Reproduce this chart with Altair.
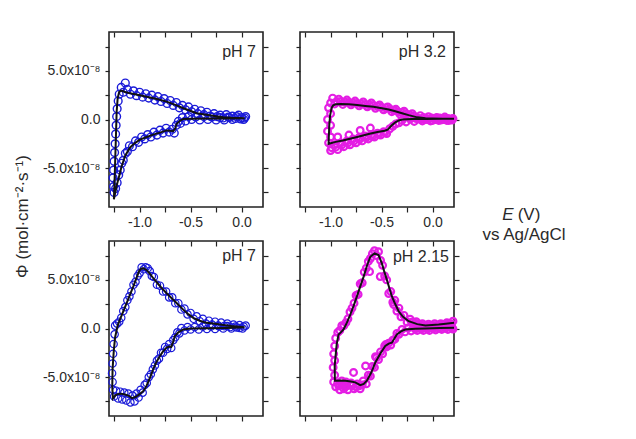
import altair as alt
import pandas as pd

# Potential in V vs Ag/AgCl; flux in units of 1e-8 mol cm^-2 s^-1
E_DOMAIN = [-1.30, 0.21]
PHI_DOMAIN = [-9.0, 9.0]
E_TICKS = [-1.25, -1.0, -0.75, -0.5, -0.25, 0.0]
PHI_TICKS = [-7.5, -5.0, -2.5, 0.0, 2.5, 5.0, 7.5]

BLUE = "#1a1ad8"
MAGENTA = "#e41ee4"
FIT = "#111111"
AX = "#222222"
TXT = "#2a2a2a"
FONT = "Liberation Sans"
W, H = 154, 175

# ---- pH 7 (top) ----
a_fit_E = [0.03, -0.10, -0.18, -0.30, -0.44, -0.57, -0.65, -0.735, -0.83, -0.93, -1.02, -1.095,
           -1.15, -1.18, -1.20, -1.215, -1.225, -1.234, -1.243, -1.252,
           -1.24, -1.225, -1.20, -1.176, -1.14, -1.095, -1.05, -0.997, -0.93, -0.866, -0.80,
           -0.735, -0.70, -0.67, -0.65, -0.637, -0.60, -0.572, -0.50, -0.34, -0.15, 0.03]
a_fit_phi = [0.12, 0.18, 0.24, 0.42, 0.65, 1.16, 1.5, 1.84, 2.1, 2.35, 2.55, 2.69,
             2.85, 2.98, 2.85, 2.2, 0.8, -2.4, -5.5, -8.2,
             -7.6, -6.8, -5.8, -4.8, -3.7, -2.9, -2.45, -2.07, -1.8, -1.56, -1.35,
             -1.12, -1.15, -1.2, -0.9, -0.44, -0.1, 0.04, 0.08, 0.1, 0.1, 0.12]
a_dat_E = [0.04, 0.02, 0.0, -0.03, -0.06, -0.09, -0.12, -0.15, -0.18, -0.21, -0.24, -0.27, -0.31,
           -0.34, -0.37, -0.40, -0.43, -0.46, -0.49, -0.52, -0.55, -0.58, -0.61, -0.64, -0.67,
           -0.70, -0.73, -0.76, -0.79, -0.82, -0.85, -0.88, -0.91, -0.94, -0.97, -1.00, -1.03,
           -1.06, -1.09, -1.12, -1.14, -1.16, -1.18, -1.20, -1.21, -1.22, -1.225, -1.23, -1.235,
           -1.24, -1.245, -1.25, -1.255, -1.26, -1.255, -1.25,
           -1.235, -1.22, -1.205, -1.19, -1.175, -1.16, -1.14, -1.12, -1.10, -1.07, -1.04, -1.01,
           -0.98, -0.95, -0.92, -0.89, -0.86, -0.83, -0.80, -0.77, -0.74, -0.71, -0.68, -0.66,
           -0.64, -0.62, -0.60, -0.58, -0.55, -0.52, -0.49, -0.45, -0.41, -0.37, -0.33, -0.29,
           -0.25, -0.21, -0.17, -0.13, -0.09, -0.05, -0.01, 0.03]
a_dat_phi = [0.3, 0.0, 0.2, 0.45, 0.1, 0.35, 0.2, 0.5, 0.15, 0.45, 0.3, 0.6, 0.35,
             0.75, 0.5, 0.9, 0.6, 1.05, 0.8, 1.3, 1.0, 1.45, 1.2, 1.75, 1.45,
             1.95, 1.65, 2.15, 1.85, 2.35, 2.0, 2.5, 2.2, 2.65, 2.3, 2.8, 2.45,
             2.95, 2.6, 3.1, 3.75, 2.8, 3.3, 2.6, 1.9, 1.1, 0.3, -0.6, -1.5,
             -2.5, -3.4, -4.3, -5.2, -6.0, -6.9, -7.5,
             -7.1, -6.5, -5.7, -5.2, -4.5, -4.2, -3.5, -3.3, -2.7, -2.8, -2.2, -2.35,
             -1.8, -2.0, -1.55, -1.8, -1.3, -1.6, -1.1, -1.4, -0.9, -1.3, -1.0, -1.4,
             -0.6, -0.2, -0.4, 0.2, -0.15, 0.3, 0.0, 0.25, -0.05, 0.3, 0.0, 0.25,
             -0.05, 0.2, -0.05, 0.25, 0.0, 0.3, 0.05, 0.15]

# ---- pH 3.2 ----
b_fit_E = [0.21, 0.10, 0.0, -0.07, -0.15, -0.235, -0.30, -0.366, -0.43, -0.497, -0.58, -0.66,
           -0.74, -0.82, -0.90, -0.95, -0.975, -0.99, -1.005, -1.013, -1.02,
           -0.95, -0.88, -0.82, -0.72, -0.627, -0.54, -0.47, -0.44, -0.40, -0.366, -0.33,
           -0.30, -0.20, -0.07, 0.10, 0.21]
b_fit_phi = [0.07, 0.08, 0.1, 0.12, 0.22, 0.45, 0.65, 0.85, 1.02, 1.16, 1.3, 1.4,
             1.5, 1.57, 1.6, 1.57, 1.45, 1.2, 0.4, -0.6, -2.5,
             -2.3, -2.15, -2.0, -1.75, -1.49, -1.28, -1.15, -1.05, -0.6, -0.3, -0.1,
             0.0, 0.04, 0.06, 0.07, 0.07]
b_dat_E = [0.20, 0.16, 0.12, 0.08, 0.04, 0.00, -0.04, -0.08, -0.12, -0.16, -0.20, -0.24, -0.28,
           -0.32, -0.36, -0.40, -0.44, -0.48, -0.52, -0.56, -0.60, -0.64, -0.68, -0.72, -0.76,
           -0.80, -0.84, -0.88, -0.92, -0.96, -0.98, -1.00,
           -0.18, -0.22, -0.26, -0.30, -0.34, -0.38, -0.42, -0.46, -0.50, -0.54, -0.58, -0.62,
           -0.66, -0.70, -0.74, -0.78, -0.82, -0.86, -0.90, -0.94,
           -1.02, -1.00, -1.03, -1.00, -1.03, -1.00, -1.02, -0.99, -1.00,
           -0.96, -0.93, -0.90, -0.87, -0.84, -0.81, -0.78, -0.75, -0.72, -0.69, -0.66, -0.63,
           -0.60, -0.57, -0.54, -0.51, -0.48, -0.45, -0.42, -0.39, -0.36, -0.33, -0.30, -0.26,
           -0.22, -0.18, -0.14, -0.10, -0.06, -0.02, 0.02, 0.06, 0.10, 0.14, 0.18,
           -0.95, -0.89, -0.83, -0.77, -0.71, -0.65, -0.59, -0.53, -0.47,
           0.19, 0.15, 0.11, 0.07, 0.03, -0.01, -0.05, -0.09, -0.13,
           -0.93, -0.82, -0.71, -0.61]
b_dat_phi = [0.1, -0.1, 0.25, -0.05, 0.2, -0.1, 0.3, 0.0, 0.4, 0.1, 0.6, 0.3, 0.85,
             0.55, 1.05, 0.8, 1.3, 1.0, 1.5, 1.15, 1.7, 1.3, 1.8, 1.4, 1.9,
             1.5, 2.0, 1.55, 2.1, 1.6, 2.2, 1.7,
             0.35, 0.45, 0.6, 0.7, 0.8, 0.95, 1.1, 1.2, 1.25, 1.35, 1.45, 1.5,
             1.55, 1.6, 1.65, 1.7, 1.75, 1.8, 1.85, 1.85,
             1.2, 0.6, 0.0, -0.6, -1.2, -1.8, -2.4, -2.9, -3.2,
             -2.6, -3.1, -2.4, -2.8, -2.2, -2.6, -2.0, -2.4, -1.85, -2.2, -1.7, -2.0,
             -1.55, -1.8, -1.4, -1.6, -1.25, -1.45, -0.95, -0.7, -0.45, -0.35, -0.1, -0.25,
             0.05, -0.2, 0.1, -0.15, 0.1, -0.15, 0.1, -0.1, 0.1, -0.1, 0.05,
             -2.85, -2.6, -2.4, -2.2, -2.0, -1.85, -1.7, -1.5, -1.35,
             -0.05, 0.1, 0.0, 0.15, 0.0, 0.15, 0.0, 0.2, 0.05,
             -1.8, -1.6, -1.12, -0.88]

# ---- pH 7 (bottom) ----
c_fit_E = [0.03, -0.10, -0.18, -0.26, -0.343, -0.41, -0.474, -0.52, -0.572, -0.62, -0.67, -0.72,
           -0.768, -0.82, -0.866, -0.90, -0.931, -0.96, -0.985, -1.003, -1.03, -1.062, -1.095,
           -1.127, -1.16, -1.193, -1.215, -1.24, -1.252, -1.265, -1.268, -1.262,
           -1.235, -1.209, -1.18, -1.144, -1.10, -1.075, -1.04, -0.997, -0.96, -0.931, -0.90,
           -0.866, -0.835, -0.801, -0.77, -0.735, -0.71, -0.69, -0.67, -0.654, -0.62, -0.572,
           -0.50, -0.34, -0.15, 0.03]
c_fit_phi = [0.13, 0.25, 0.37, 0.48, 0.58, 0.8, 1.09, 1.45, 1.94, 2.45, 2.96, 3.47,
             3.98, 4.6, 5.17, 5.65, 6.0, 6.2, 6.15, 5.95, 5.2, 4.32, 3.45,
             2.62, 1.75, 0.92, 0.3, -0.9, -2.14, -4.18, -6.0, -7.2,
             -6.85, -6.73, -6.7, -6.78, -6.95, -7.17, -7.05, -6.73, -6.4, -5.88, -5.1,
             -4.18, -3.45, -2.82, -2.35, -1.97, -1.85, -1.9, -1.35, -0.78, -0.4, -0.1,
             0.0, 0.02, 0.06, 0.13]
c_dat_E = [0.04, 0.01, -0.02, -0.05, -0.08, -0.11, -0.14, -0.17, -0.20, -0.23, -0.26, -0.29,
           -0.32, -0.35, -0.38, -0.41, -0.44, -0.47, -0.50, -0.53, -0.56, -0.59, -0.62, -0.65,
           -0.68, -0.71, -0.74, -0.77, -0.80, -0.83, -0.86, -0.88, -0.90, -0.92, -0.94, -0.96,
           -0.98, -1.00, -1.02, -1.04, -1.06, -1.08, -1.10, -1.12, -1.14, -1.16, -1.18, -1.20,
           -1.22, -1.24, -1.245, -1.255, -1.26, -1.265, -1.27, -1.265, -1.26,
           -1.25, -1.23, -1.21, -1.19, -1.17, -1.15, -1.13, -1.11, -1.09, -1.07, -1.05, -1.03,
           -1.01, -0.99, -0.97, -0.95, -0.93, -0.91, -0.89, -0.87, -0.85, -0.83, -0.81, -0.79,
           -0.77, -0.75, -0.73, -0.71, -0.69, -0.67, -0.65, -0.63, -0.61, -0.59, -0.56, -0.53,
           -0.50, -0.46, -0.42, -0.38, -0.34, -0.30, -0.26, -0.22, -0.18, -0.14, -0.10, -0.06,
           -0.02, 0.02]
c_dat_phi = [0.3, 0.0, 0.35, 0.1, 0.4, 0.15, 0.5, 0.25, 0.6, 0.3, 0.7, 0.4,
             0.8, 0.5, 1.0, 0.75, 1.25, 1.0, 1.6, 1.45, 2.05, 1.95, 2.6, 2.6,
             3.2, 3.2, 3.8, 3.8, 4.4, 4.5, 5.3, 5.4, 5.9, 6.2, 6.3, 6.1,
             6.3, 5.7, 5.4, 4.8, 4.5, 3.8, 3.3, 2.9, 2.2, 1.8, 1.1, 0.7,
             0.5, 0.3, -0.6, -1.6, -2.6, -3.6, -4.6, -5.5, -6.3,
             -7.0, -6.4, -7.2, -6.5, -7.3, -6.6, -7.4, -6.7, -7.6, -6.9, -7.5, -6.7,
             -7.1, -6.3, -6.6, -5.8, -5.6, -5.0, -4.7, -4.2, -3.8, -3.3, -3.1, -2.5,
             -2.5, -1.9, -2.1, -1.6, -2.0, -1.2, -0.9, -0.4, -0.5, 0.05, -0.2, 0.15,
             -0.1, 0.15, -0.1, 0.2, -0.05, 0.2, -0.05, 0.2, 0.0, 0.25, 0.0, 0.2,
             0.05, 0.2]

# ---- pH 2.15 ----
d_fit_E = [0.21, 0.13, 0.06, -0.07, -0.15, -0.235, -0.29, -0.333, -0.37, -0.399, -0.425, -0.448,
           -0.475, -0.497, -0.53, -0.569, -0.611, -0.645, -0.676, -0.71, -0.742, -0.775, -0.807,
           -0.84, -0.873, -0.90, -0.922, -0.94, -0.948, -0.96, -0.958,
           -0.90, -0.856, -0.80, -0.758, -0.709, -0.675, -0.644, -0.60, -0.562, -0.51, -0.464,
           -0.43, -0.399, -0.37, -0.35, -0.31, -0.268, -0.17, -0.07, 0.07, 0.21]
d_fit_phi = [0.58, 0.5, 0.41, 0.31, 0.45, 0.75, 1.2, 1.77, 2.6, 3.3, 4.2, 5.0,
             5.9, 6.7, 7.55, 7.72, 7.38, 6.4, 5.34, 4.3, 3.3, 2.3, 1.43,
             0.6, -0.1, -0.4, -0.61, -1.6, -2.48, -3.84, -5.37,
             -5.35, -5.37, -5.45, -5.54, -5.82, -5.7, -5.37, -4.5, -3.5, -2.55, -1.8,
             -1.55, -1.46, -0.95, -0.61, -0.3, -0.1, -0.02, 0.0, 0.04, 0.07]
d_dat_E = [0.20, 0.17, 0.14, 0.11, 0.08, 0.05, 0.02, -0.01, -0.04, -0.07, -0.10, -0.13, -0.16,
           -0.19, -0.22, -0.25, -0.28, -0.31, -0.33, -0.35, -0.37, -0.39, -0.41, -0.43, -0.45,
           -0.47, -0.49, -0.51, -0.53, -0.55, -0.57, -0.59, -0.61, -0.63, -0.65, -0.67, -0.69,
           -0.71, -0.73, -0.75, -0.77, -0.79, -0.81, -0.83, -0.85, -0.87, -0.89, -0.91, -0.93,
           -0.95, -0.96, -0.97, -0.96, -0.975, -0.96, -0.97, -0.95,
           0.185, 0.155, 0.125, 0.095, 0.065, 0.035, 0.005, -0.025, -0.055, -0.085, -0.115,
           -0.145, -0.175, -0.205,
           -0.93, -0.91, -0.89, -0.87, -0.85, -0.83, -0.80, -0.77, -0.74, -0.71, -0.68, -0.65,
           -0.63, -0.61, -0.59, -0.57, -0.55, -0.53, -0.51, -0.49, -0.47, -0.45, -0.43, -0.41,
           -0.39, -0.37, -0.35, -0.33, -0.30, -0.27, -0.24, -0.21, -0.18, -0.15, -0.12, -0.09,
           -0.06, -0.03, 0.0, 0.03, 0.06, 0.09, 0.12, 0.15, 0.18, 0.20,
           -0.92, -0.88, -0.84, -0.79, -0.75, -0.72, -0.69,
           0.19, 0.13, 0.07, 0.01, -0.05, -0.11, -0.17,
           -0.775, -0.657, -0.56, -0.458, -0.618, -0.513, -0.38]
d_dat_phi = [0.75, 0.3, 0.6, 0.2, 0.5, 0.15, 0.5, 0.1, 0.45, 0.15, 0.5, 0.2, 0.7,
             0.4, 0.95, 0.65, 1.35, 1.2, 2.1, 1.8, 2.9, 2.7, 3.8, 3.6, 5.0,
             5.4, 6.5, 7.0, 7.9, 7.5, 8.0, 7.7, 7.2, 6.9, 6.2, 5.8, 4.7,
             4.6, 3.5, 3.4, 2.6, 2.1, 1.7, 1.0, 0.6, 0.3, 0.3, -0.2, -0.4,
             -1.0, -1.8, -2.6, -3.3, -4.0, -4.8, -5.5, -6.0,
             0.5, 0.45, 0.4, 0.35, 0.3, 0.3, 0.3, 0.3, 0.3, 0.3, 0.35,
             0.45, 0.55, 0.65,
             -5.6, -6.3, -5.4, -6.2, -5.5, -6.3, -5.6, -6.2, -5.7, -6.2, -5.4, -5.7,
             -4.8, -4.9, -3.9, -4.0, -3.0, -3.2, -2.4, -2.6, -1.8, -1.9, -1.5, -1.7,
             -1.2, -1.1, -0.5, -0.6, -0.1, -0.35, 0.05, -0.25, 0.1, -0.2, 0.1, -0.2,
             0.1, -0.2, 0.1, -0.15, 0.15, -0.1, 0.2, -0.1, 0.2, -0.05,
             -5.9, -5.8, -5.9, -5.9, -6.0, -5.9, -5.8,
             0.1, 0.05, 0.0, 0.0, -0.05, -0.05, -0.05,
             -4.52, -3.85, -2.89, -1.63, 5.85, 5.34, 2.45]

XLAB = ("abs(datum.value * 2 - round(datum.value * 2)) < 1e-6 ? "
        "(datum.value < 0 ? '-' : '') + format(abs(datum.value), '.1f') : ''")
YLAB = ("datum.value == 5 ? '5.0x10\u207b\u2078' : datum.value == -5 ? '-5.0x10\u207b\u2078' : "
        "datum.value == 0 ? '0.0' : ''")


def panel(fit_E, fit_phi, dat_E, dat_phi, color, pt_size, pt_stroke, label,
          label_y, label_pad, left_labels, bottom_labels, extra=None):
    fit = pd.DataFrame({"E": fit_E, "phi": fit_phi, "k": list(range(len(fit_E)))})
    dat = pd.DataFrame({"E": dat_E, "phi": dat_phi})
    xs = alt.Scale(domain=E_DOMAIN, nice=False, zero=False)
    ys = alt.Scale(domain=PHI_DOMAIN, nice=False, zero=False)
    common = dict(grid=False, domain=False, ticks=True, tickColor=AX, tickWidth=1.2,
                  title=None, labelFont=FONT, labelFontSize=14, labelColor=TXT)
    if bottom_labels:
        ax_bottom = alt.Axis(orient="bottom", values=E_TICKS, tickSize=5, labelExpr=XLAB,
                             labelPadding=3, labelFlush=False, **common)
    else:
        ax_bottom = alt.Axis(orient="bottom", values=E_TICKS, tickSize=5, labels=False, **common)
    if left_labels:
        ax_left = alt.Axis(orient="left", values=PHI_TICKS, tickSize=4, labelExpr=YLAB,
                           labelPadding=5, **common)
    else:
        ax_left = alt.Axis(orient="left", values=PHI_TICKS, tickSize=4, labels=False, **common)
    ax_top = alt.Axis(orient="top", values=E_TICKS, tickSize=5, offset=-5, labels=False, **common)
    ax_right = alt.Axis(orient="right", values=PHI_TICKS, tickSize=5, labels=False, **common)

    pts = alt.Chart(dat).mark_point(
        shape="circle", filled=False, size=pt_size, strokeWidth=pt_stroke, color=color, opacity=1
    ).encode(
        x=alt.X("E:Q", scale=xs, axis=ax_bottom),
        y=alt.Y("phi:Q", scale=ys, axis=ax_left),
    )
    line = alt.Chart(fit).mark_line(color=FIT, strokeWidth=2).encode(
        x=alt.X("E:Q", scale=xs, axis=ax_top),
        y=alt.Y("phi:Q", scale=ys, axis=ax_right),
        order=alt.Order("k:Q"),
    )
    tag = alt.Chart(pd.DataFrame({"t": [label]})).mark_text(
        align="right", baseline="alphabetic", font=FONT, fontSize=16, color=TXT
    ).encode(text="t:N", x=alt.value(W - label_pad), y=alt.value(label_y))
    layers = [pts, line, tag] + (extra or [])
    return alt.layer(*layers).resolve_axis(x="independent", y="independent").properties(
        width=W, height=H)


def note(text, x, y, style="normal"):
    return alt.Chart(pd.DataFrame({"t": [text]})).mark_text(
        align="center", baseline="alphabetic", font=FONT, fontSize=17, fontStyle=style, color=TXT
    ).encode(text="t:N", x=alt.value(x), y=alt.value(y))


axis_note = [note("E", W + 54, 220 - 32, "italic"), note("(V)", W + 75, 220 - 32),
             note("vs Ag/AgCl", W + 70, 240 - 32)]

p1 = panel(a_fit_E, a_fit_phi, a_dat_E, a_dat_phi, BLUE, 60, 1.4, "pH 7", 25, 7, True, True)
p2 = panel(b_fit_E, b_fit_phi, b_dat_E, b_dat_phi, MAGENTA, 45, 2.2, "pH 3.2", 25, 8, False, True,
           extra=axis_note)
p3 = panel(c_fit_E, c_fit_phi, c_dat_E, c_dat_phi, BLUE, 55, 1.2, "pH 7", 20, 7, True, False)
p4 = panel(d_fit_E, d_fit_phi, d_dat_E, d_dat_phi, MAGENTA, 45, 2.2, "pH 2.15", 21, 5, False, False)

chart = alt.concat(
    p1, p2, p3, p4, columns=2, bounds="flush",
    spacing={"row": 34, "column": 37},
    title=alt.TitleParams(
        text="\u03a6 (mol\u00b7cm\u207b\u00b2\u00b7s\u207b\u00b9)", orient="left", anchor="middle",
        font=FONT, fontSize=17, fontWeight="normal", color=TXT, offset=10, dx=10),
).properties(
    padding={"left": 13, "top": 30, "right": 5, "bottom": 5},
    background="white",
).configure_view(stroke=AX, strokeWidth=1.6)

chart.save("out.html", embed_options={"renderer": "svg", "actions": False})
